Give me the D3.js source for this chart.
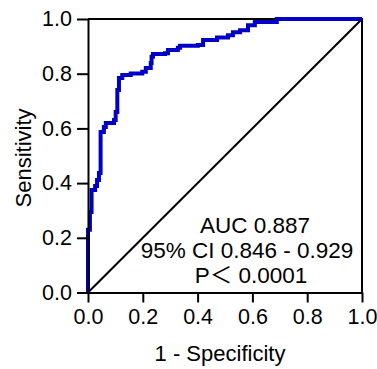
<!DOCTYPE html>
<html>
<head>
<meta charset="utf-8">
<script src="https://cdn.jsdelivr.net/npm/d3@7"></script>
<style>
  body { margin: 0; background: white; }
  text { font-family: "Liberation Sans", Arial, "Noto Sans CJK SC", sans-serif; }
</style>
</head>
<body>
<div id="container"></div>
<script>
let w = 377;
let h = 369;

// ROC points (1 - specificity, sensitivity)
let fpr = [0, 0, 0.007, 0.013, 0.026, 0.033, 0.040, 0.046, 0.058, 0.065, 0.095, 0.101, 0.107, 0.113, 0.125, 0.156, 0.198, 0.211, 0.229, 0.232, 0.237, 0.281, 0.292, 0.328, 0.336, 0.401, 0.420, 0.471, 0.511, 0.529, 0.555, 0.584, 0.609, 0.689, 1.0];
let tpr = [0, 0.229, 0.294, 0.375, 0.389, 0.411, 0.437, 0.587, 0.605, 0.620, 0.631, 0.660, 0.740, 0.784, 0.795, 0.801, 0.807, 0.821, 0.839, 0.862, 0.872, 0.875, 0.887, 0.895, 0.902, 0.905, 0.923, 0.932, 0.941, 0.952, 0.959, 0.977, 0.989, 1.0, 1.0];
let ticks = [0, 0.2, 0.4, 0.6, 0.8, 1.0];
let statLines = ["AUC 0.887", "95% CI 0.846 - 0.929", "P\uFF1C 0.0001"];

let plotLeft = 88, plotRight = 362, plotTop = 19, plotBottom = 292.5;

let viz = d3.select("#container").append("svg")
    .attr("width", w)
    .attr("height", h)
    .style("background-color", "white");

let xScale = d3.scaleLinear().domain([0, 1]).range([plotLeft, plotRight]);
let yScale = d3.scaleLinear().domain([0, 1]).range([plotBottom, plotTop]);

// frame (top + right)
viz.append("path")
    .attr("d", "M" + plotLeft + "," + plotTop + "H" + plotRight + "V" + plotBottom)
    .attr("fill", "none")
    .attr("stroke", "black")
    .attr("stroke-width", 2);

// chance line
viz.append("line")
    .attr("x1", xScale(0)).attr("y1", yScale(0))
    .attr("x2", xScale(1)).attr("y2", yScale(1))
    .attr("stroke", "black")
    .attr("stroke-width", 2);

// ROC curve
let points = fpr.map(function(d, i){ return [d, tpr[i]]; });
let lineMaker = d3.line()
    .x(function(d){ return xScale(d[0]); })
    .y(function(d){ return yScale(d[1]); })
    .curve(d3.curveStepAfter);

viz.append("path")
    .datum(points)
    .attr("d", lineMaker)
    .attr("fill", "none")
    .attr("stroke", "#0000c8")
    .attr("stroke-width", 4);

// axes
let xAxis = d3.axisBottom(xScale).tickValues(ticks).tickFormat(d3.format(".1f")).tickSize(10).tickSizeOuter(0).tickPadding(6);
let yAxis = d3.axisLeft(yScale).tickValues(ticks).tickFormat(d3.format(".1f")).tickSize(11).tickSizeOuter(0).tickPadding(5);

let gx = viz.append("g").attr("transform", "translate(0," + plotBottom + ")").call(xAxis);
let gy = viz.append("g").attr("transform", "translate(" + plotLeft + ",0)").call(yAxis);

[gx, gy].forEach(function(g){
  g.selectAll("path, line").attr("stroke", "black").attr("stroke-width", 2);
  g.selectAll("text").attr("fill", "black").style("font-size", "21.5px");
});

// axis titles
viz.append("text")
    .attr("x", 220).attr("y", 361)
    .attr("text-anchor", "middle")
    .style("font-size", "22px")
    .text("1 - Specificity");

viz.append("text")
    .attr("transform", "translate(31,158) rotate(-90)")
    .attr("text-anchor", "middle")
    .style("font-size", "22px")
    .text("Sensitivity");

// stats annotation
let statX = [255, 247, 251];
viz.selectAll(".stat").data(statLines).enter()
  .append("text")
    .attr("class", "stat")
    .attr("x", function(d, i){ return statX[i]; })
    .attr("y", function(d, i){ return 233 + i * 25; })
    .attr("text-anchor", "middle")
    .style("font-size", "22.5px")
    .text(function(d){ return d; });
</script>
</body>
</html>
